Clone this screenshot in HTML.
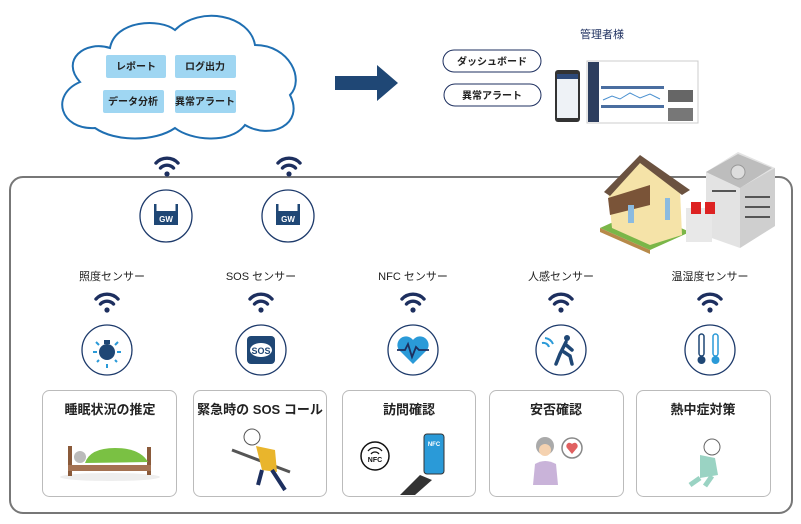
<!DOCTYPE html>
<html><head><meta charset="utf-8"><style>
html,body{margin:0;padding:0;background:#fff;}
svg{display:block;font-family:"Liberation Sans","Noto Sans CJK JP",sans-serif;}
</style></head><body>
<svg width="801" height="524" viewBox="0 0 801 524" xmlns="http://www.w3.org/2000/svg">
<defs>
<g id="wifi" fill="none" stroke="#1d2f5f" stroke-width="3.4" stroke-linecap="round">
<path d="M-11,-5 A15,15 0 0 1 11,-5"/>
<path d="M-6.5,0 A9,9 0 0 1 6.5,0"/>
<circle cx="0" cy="6" r="2.6" fill="#1d2f5f" stroke="none"/>
</g>
<g id="gw">
<circle r="26" fill="#fff" stroke="#1d3a6b" stroke-width="1.3"/>
<rect x="-12" y="-5" width="24" height="14" fill="#1f4775"/>
<rect x="-12" y="-12" width="2.5" height="8" fill="#1f4775"/>
<rect x="9.5" y="-12" width="2.5" height="8" fill="#1f4775"/>
<text x="0" y="6" font-size="8" font-weight="bold" fill="#fff" text-anchor="middle">GW</text>
</g>
</defs>

<!-- cloud -->
<path d="M95,128 C60,130 50,95 80,82 C60,60 85,40 110,48 C115,20 160,18 175,30 C200,5 250,15 255,45 C290,45 305,80 290,95 C305,125 270,140 245,125 C230,145 190,140 175,128 C155,142 115,142 95,128 Z" fill="#fff" stroke="#1f6fb2" stroke-width="2"/>
<g font-size="10" font-weight="bold" fill="#222" text-anchor="middle">
<rect x="106" y="55" width="60" height="23" rx="2" fill="#9fd6f2"/><text x="136" y="70">レポート</text>
<rect x="175" y="55" width="61" height="23" rx="2" fill="#9fd6f2"/><text x="205" y="70">ログ出力</text>
<rect x="103" y="90" width="61" height="23" rx="2" fill="#9fd6f2"/><text x="133" y="105">データ分析</text>
<rect x="175" y="90" width="61" height="23" rx="2" fill="#9fd6f2"/><text x="205" y="105">異常アラート</text>
</g>
<!-- arrow -->
<polygon points="335,76 377,76 377,65 398,83 377,101 377,90 335,90" fill="#1f4775"/>

<!-- admin -->
<text x="602" y="38" font-size="11" fill="#1d2f5f" text-anchor="middle">管理者様</text>
<g font-size="10" font-weight="bold" fill="#222" text-anchor="middle">
<rect x="443" y="50" width="98" height="22" rx="11" fill="#fff" stroke="#1d2f5f" stroke-width="1"/><text x="492" y="65">ダッシュボード</text>
<rect x="444" y="84" width="97" height="22" rx="11" fill="#fff" stroke="#1d2f5f" stroke-width="1"/><text x="492" y="99">異常アラート</text>
</g>
<rect x="555" y="70" width="25" height="52" rx="3" fill="#333"/>
<rect x="557" y="74" width="21" height="44" fill="#eef2f6"/>
<rect x="557" y="74" width="21" height="5" fill="#2e4a7a"/>
<rect x="587" y="61" width="111" height="62" fill="#fff" stroke="#ccc"/>
<rect x="588" y="62" width="11" height="60" fill="#2d3e5e"/>
<rect x="601" y="86" width="63" height="3" fill="#4a6ea0"/>
<polyline points="603,100 612,96 620,99 630,93 640,98 650,94 660,99" fill="none" stroke="#4a90d0" stroke-width="1"/>
<rect x="601" y="105" width="63" height="3" fill="#4a6ea0"/>
<rect x="668" y="90" width="25" height="12" fill="#666"/>
<rect x="668" y="108" width="25" height="13" fill="#777"/>

<!-- outer frame -->
<rect x="10" y="177" width="782" height="336" rx="13" fill="none" stroke="#777" stroke-width="2"/>

<!-- buildings -->
<polygon points="600,228 640,210 690,232 650,250" fill="#7ab648"/>
<polygon points="600,228 650,250 650,254 600,232" fill="#b78a4a"/>
<polygon points="608,190 640,160 680,190 682,235 650,245 612,228" fill="#f5e3a8"/>
<polygon points="604,192 640,155 690,190 682,195 640,163 610,196" fill="#6b5240"/>
<polygon points="608,198 650,185 650,205 610,215" fill="#7a5438"/>
<rect x="628" y="205" width="6" height="18" fill="#8bbbe0"/>
<rect x="665" y="198" width="5" height="22" fill="#8bbbe0"/>
<polygon points="706,172 738,152 775,168 775,226 740,248 706,236" fill="#e3e3e3"/>
<polygon points="740,188 775,168 775,226 740,248" fill="#cfcfcf"/>
<polygon points="706,172 738,154 772,168 740,188" fill="#bdbdbd"/>
<circle cx="738" cy="172" r="7" fill="#ddd" stroke="#999"/>
<g fill="#555"><rect x="745" y="196" width="25" height="2"/><rect x="745" y="206" width="25" height="2"/><rect x="745" y="216" width="25" height="2"/><rect x="712" y="190" width="24" height="2"/></g>
<rect x="686" y="208" width="26" height="34" fill="#e8e8e8"/>
<rect x="691" y="202" width="10" height="12" fill="#d22"/><rect x="705" y="202" width="10" height="12" fill="#d22"/>

<!-- GW -->
<use href="#wifi" x="167" y="168"/>
<use href="#gw" x="166" y="216"/>
<use href="#wifi" x="289" y="168"/>
<use href="#gw" x="288" y="216"/>

<!-- sensors -->
<g font-size="11" fill="#222" text-anchor="middle">
<text x="112" y="280">照度センサー</text>
<text x="261" y="280">SOS センサー</text>
<text x="413" y="280">NFC センサー</text>
<text x="561" y="280">人感センサー</text>
<text x="710" y="280">温湿度センサー</text>
</g>
<use href="#wifi" x="107" y="304"/>
<use href="#wifi" x="261" y="304"/>
<use href="#wifi" x="413" y="304"/>
<use href="#wifi" x="561" y="304"/>
<use href="#wifi" x="710" y="304"/>
<g fill="#fff" stroke="#1d3a6b" stroke-width="1.3">
<circle cx="107" cy="350" r="25"/><circle cx="261" cy="350" r="25"/><circle cx="413" cy="350" r="25"/><circle cx="561" cy="350" r="25"/><circle cx="710" cy="350" r="25"/>
</g>
<!-- bulb -->
<circle cx="107" cy="352" r="8" fill="#1f4775"/><rect x="104" y="340" width="6" height="4" fill="#1f4775"/>
<g stroke="#2a9ad8" stroke-width="2"><line x1="93" y1="352" x2="97" y2="352"/><line x1="117" y1="352" x2="121" y2="352"/><line x1="107" y1="364" x2="107" y2="368"/><line x1="96" y1="342" x2="99" y2="345"/><line x1="118" y1="342" x2="115" y2="345"/><line x1="97" y1="362" x2="99" y2="360"/><line x1="117" y1="362" x2="115" y2="360"/></g>
<!-- sos -->
<rect x="247" y="336" width="28" height="28" rx="4" fill="#1f4775"/>
<ellipse cx="261" cy="350" rx="11" ry="7" fill="#fff"/>
<text x="261" y="354" font-size="9" font-weight="bold" fill="#1f4775" text-anchor="middle">SOS</text>
<!-- heart -->
<path d="M413,364 L399,350 A7,7 0 0 1 413,340 A7,7 0 0 1 427,350 Z" fill="#2a9ad8"/>
<polyline points="397,350 405,350 408,344 412,357 416,347 419,350 429,350" fill="none" stroke="#1d2f5f" stroke-width="1.8"/>
<!-- walker -->
<circle cx="567" cy="338" r="3" fill="#1f4775"/>
<path d="M566,342 L560,354 L556,364 M564,352 L570,356 L572,364 M565,344 L572,350" stroke="#1f4775" stroke-width="3.5" fill="none" stroke-linecap="round"/>
<path d="M545,338 A10,10 0 0 1 553,344 M542,343 A6,6 0 0 1 549,347" stroke="#2a9ad8" stroke-width="2" fill="none"/>
<!-- thermometers -->
<rect x="699" y="334" width="5" height="22" rx="2.5" fill="#fff" stroke="#1f4775" stroke-width="1.5"/><circle cx="701.5" cy="360" r="4" fill="#1f4775"/>
<rect x="713" y="334" width="5" height="22" rx="2.5" fill="#fff" stroke="#2a9ad8" stroke-width="1.5"/><circle cx="715.5" cy="360" r="4" fill="#2a9ad8"/>

<!-- cards -->
<g fill="#fff" stroke="#bbb" stroke-width="1">
<rect x="42.5" y="390.5" width="134" height="106" rx="7"/>
<rect x="193.5" y="390.5" width="133" height="106" rx="7"/>
<rect x="342.5" y="390.5" width="133" height="106" rx="7"/>
<rect x="489.5" y="390.5" width="134" height="106" rx="7"/>
<rect x="636.5" y="390.5" width="134" height="106" rx="7"/>
</g>
<g font-size="13" font-weight="bold" fill="#222" text-anchor="middle">
<text x="110" y="414">睡眠状況の推定</text>
<text x="260" y="414">緊急時の SOS コール</text>
<text x="409" y="414">訪問確認</text>
<text x="556" y="414">安否確認</text>
<text x="703" y="414">熱中症対策</text>
</g>
<!-- bed -->
<ellipse cx="110" cy="477" rx="50" ry="4" fill="#eee"/>
<rect x="68" y="446" width="4" height="30" fill="#8a5a3a"/><rect x="147" y="447" width="4" height="28" fill="#8a5a3a"/>
<rect x="68" y="465" width="83" height="6" fill="#a47252"/>
<path d="M85,463 Q90,448 115,448 Q140,448 148,462 Z" fill="#7ac143"/>
<circle cx="80" cy="457" r="6" fill="#bbb"/>
<!-- sos person -->
<line x1="232" y1="450" x2="290" y2="472" stroke="#555" stroke-width="3"/>
<circle cx="252" cy="437" r="8" fill="#fff" stroke="#555"/>
<path d="M256,446 L275,450 L277,472 L262,470 Z" fill="#e9b52c"/>
<path d="M262,470 L258,485 M272,470 L285,490" stroke="#1d2f5f" stroke-width="4"/>
<!-- nfc -->
<circle cx="375" cy="456" r="14" fill="#fff" stroke="#111" stroke-width="1.5"/>
<text x="375" y="462" font-size="7" font-weight="bold" fill="#111" text-anchor="middle">NFC</text>
<path d="M368,451 A9,9 0 0 1 382,451 M371,454 A5,5 0 0 1 379,454" stroke="#111" stroke-width="1.3" fill="none"/>
<path d="M400,495 L420,475 L432,480 L415,495 Z" fill="#333"/>
<rect x="424" y="434" width="20" height="40" rx="3" fill="#2a9ad8" stroke="#333"/>
<text x="434" y="446" font-size="6" font-weight="bold" fill="#fff" text-anchor="middle">NFC</text>
<!-- elderly woman -->
<circle cx="545" cy="446" r="9" fill="#aaa"/><circle cx="545" cy="450" r="6" fill="#f5d2b0"/>
<path d="M533,485 L535,464 Q545,458 556,464 L558,485 Z" fill="#c9b3d9"/>
<circle cx="572" cy="448" r="10" fill="#fff" stroke="#888" stroke-width="1.5"/>
<path d="M572,454 L567,448 A3,3 0 0 1 572,444 A3,3 0 0 1 577,448 Z" fill="#e06060"/>
<!-- heatstroke -->
<circle cx="712" cy="447" r="8" fill="#fff" stroke="#666"/>
<path d="M700,455 L715,458 L718,475 L700,478 Z" fill="#9ad3c3"/>
<path d="M700,478 L690,485 M712,476 L705,486" stroke="#9ad3c3" stroke-width="5"/>
</svg>
</body></html>
